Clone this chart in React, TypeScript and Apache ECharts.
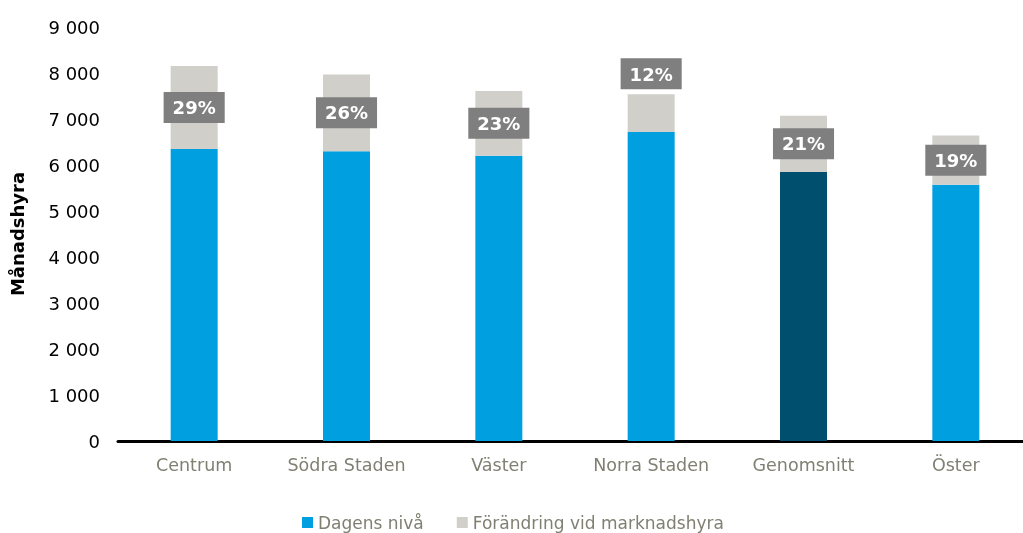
import React, { useEffect, useRef } from "react";
import * as echarts from "echarts";

const categories = ["Centrum", "Södra Staden", "Väster", "Norra Staden", "Genomsnitt", "Öster"];
const dagensNiva = [6350, 6300, 6200, 6720, 5850, 5570];
const forandring = [1800, 1670, 1410, 820, 1220, 1070];
const pctLabels = ["29%", "26%", "23%", "12%", "21%", "19%"];
const labelAbove = [false, false, false, true, false, false];
const highlighted = "Genomsnitt";

const FONT = "'DejaVu Sans', sans-serif";

export default function App() {
  const ref = useRef<HTMLDivElement>(null);
  useEffect(() => {
    if (!ref.current) return;
    const chart = echarts.init(ref.current, undefined, { renderer: "svg" });
    chart.setOption({
      animation: false,
      textStyle: { fontFamily: FONT },
      grid: { left: 118, right: 0, top: 27, bottom: 92, containLabel: false },
      legend: {
        left: 302,
        top: 514,
        padding: 0,
        itemWidth: 11,
        itemHeight: 11,
        itemGap: 33,
        icon: "rect",
        textStyle: { color: "#7f7f72", fontSize: 17, fontFamily: FONT, lineHeight: 17 },
        data: ["Dagens nivå", "Förändring vid marknadshyra"],
      },
      xAxis: {
        type: "category",
        data: categories,
        axisLine: { lineStyle: { color: "#000", width: 3 } },
        axisTick: { show: false },
        axisLabel: { color: "#7f7f72", fontSize: 17.5, margin: 15, interval: 0, fontFamily: FONT },
      },
      yAxis: {
        type: "value",
        min: 0,
        max: 9000,
        interval: 1000,
        name: "Månadshyra",
        nameLocation: "middle",
        nameGap: 92,
        nameTextStyle: { color: "#000", fontSize: 18, fontWeight: "bold", fontFamily: FONT },
        splitLine: { show: false },
        axisLine: { show: false },
        axisTick: { show: false },
        axisLabel: {
          color: "#000",
          fontSize: 18,
          margin: 18,
          fontFamily: FONT,
          formatter: (v: number) => String(v).replace(/\B(?=(\d{3})+(?!\d))/g, " "),
        },
      },
      series: [
        {
          name: "Dagens nivå",
          type: "bar",
          stack: "total",
          barWidth: 47,
          itemStyle: { color: "#009fdf" },
          data: dagensNiva.map((v, i) => ({
            value: v,
            itemStyle: { color: categories[i] === highlighted ? "#004f6f" : "#009fdf" },
          })),
        },
        {
          name: "Förändring vid marknadshyra",
          type: "bar",
          stack: "total",
          barWidth: 47,
          itemStyle: { color: "#d0cfca" },
          data: forandring.map((v, i) => ({
            value: v,
            label: {
              show: true,
              position: labelAbove[i] ? "top" : "inside",
              distance: 5,
              formatter: pctLabels[i],
              color: "#fff",
              fontSize: 18,
              fontWeight: "bold",
              fontFamily: FONT,
              backgroundColor: "#7f7f7f",
              padding: [7, 9, 6, 9],
            },
          })),
        },
      ],
    });
    return () => chart.dispose();
  }, []);
  return <div ref={ref} style={{ position: "fixed", left: 0, top: 0, width: 1032, height: 533 }} />;
}
